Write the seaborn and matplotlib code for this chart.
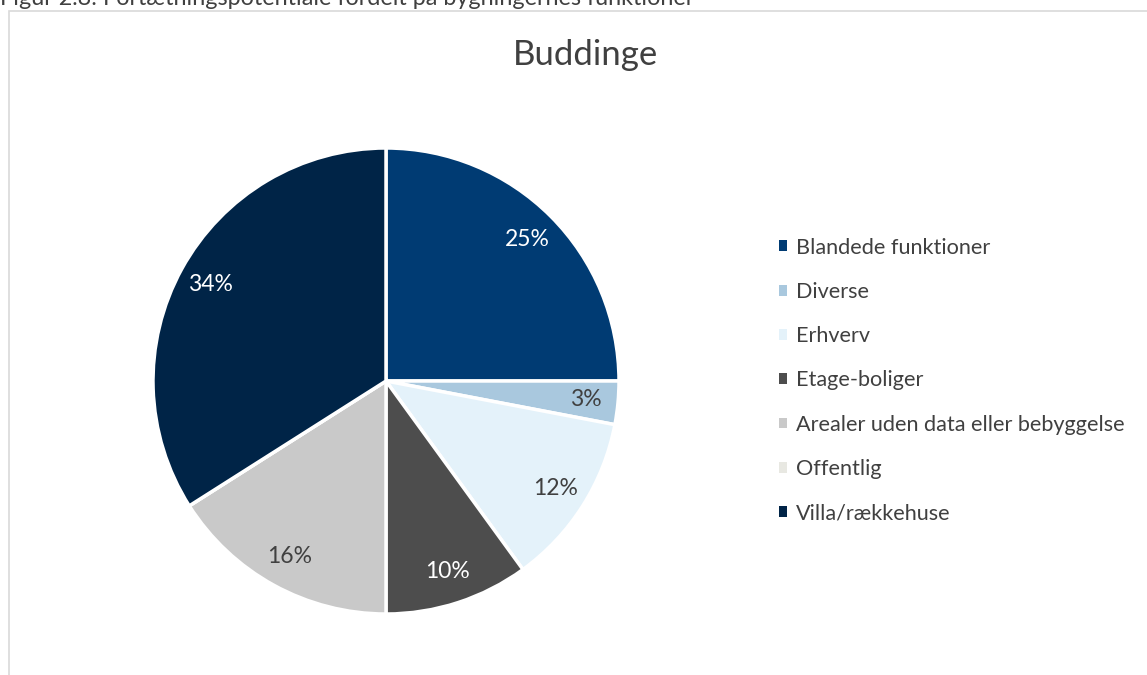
import matplotlib
matplotlib.use("Agg")
import matplotlib.pyplot as plt
import seaborn as sns
from matplotlib.patches import Rectangle, Patch

sns.set_theme(style="white")
plt.rcParams['font.family'] = ['Lato', 'DejaVu Sans']

categories = ["Blandede funktioner", "Diverse", "Erhverv", "Etage-boliger",
              "Arealer uden data eller bebyggelse", "Offentlig", "Villa/rækkehuse"]
values = [25, 3, 12, 10, 16, 0, 34]
colors = ["#003B73", "#A9C8DE", "#E4F2FA", "#4D4D4D", "#C9C9C9", "#E8E8E2", "#002447"]
label_colors = ["white", "#404040", "#404040", "white", "#404040", "#404040", "white"]
title = "Buddinge"
caption = "Figur 2.8: Fortætningspotentiale fordelt på bygningernes funktioner"

W, H = 1147, 675
fig = plt.figure(figsize=(W / 100, H / 100), dpi=100)
fig.patch.set_facecolor("white")

# chart frame
fig.add_artist(Rectangle((9 / W, -0.01), 1.02 - 9 / W, 1 - 11 / H + 0.01,
                         transform=fig.transFigure, fill=False,
                         edgecolor="#D9D9D9", linewidth=1.2))
fig.text(0.0, 1 - 5 / H, caption, fontsize=16.8, color="#404040",
         ha="left", va="baseline")

cx, cy, r = 386, 381, 233
ax = fig.add_axes([(cx - r) / W, (H - cy - r) / H, 2 * r / W, 2 * r / H])
wedges, texts, autotexts = ax.pie(
    values, colors=colors, startangle=90, counterclock=False, radius=1,
    autopct=lambda p: f"{p:.0f}%" if p > 0.5 else "", pctdistance=0.86,
    wedgeprops=dict(edgecolor="white", linewidth=2.5),
    textprops=dict(fontsize=16.5))
for t, c in zip(autotexts, label_colors):
    t.set_color(c)
ax.set_xlim(-1.0, 1.0)
ax.set_ylim(-1.0, 1.0)
ax.set_aspect("equal")
ax.axis("off")

fig.text(586 / W, 1 - 55 / H, title, fontsize=25, color="#404040",
         ha="center", va="center")

handles = [Patch(facecolor=c, edgecolor="none") for c in colors]
leg = fig.legend(handles, categories, loc="upper left",
                 bbox_to_anchor=(770 / W, 1 - 229 / H), frameon=False,
                 fontsize=15.6, handlelength=0.4, handleheight=0.4,
                 handletextpad=0.4, labelspacing=1.12, borderaxespad=0)
for t in leg.get_texts():
    t.set_color("#404040")

fig.savefig("out.png", dpi=100, facecolor="white")
